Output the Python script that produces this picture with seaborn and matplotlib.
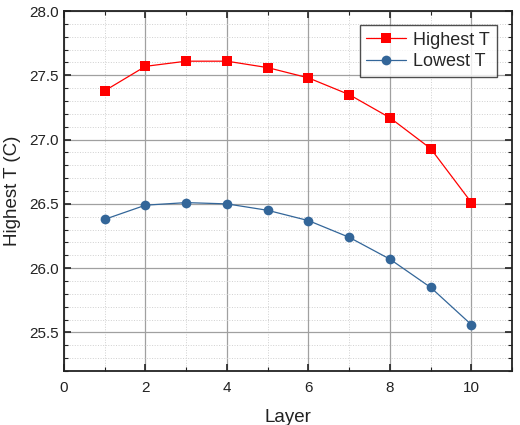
import matplotlib
matplotlib.use("Agg")
import matplotlib.pyplot as plt
from matplotlib.ticker import MultipleLocator
import seaborn as sns
import pandas as pd

layers = [1, 2, 3, 4, 5, 6, 7, 8, 9, 10]
highest_t = [27.38, 27.57, 27.61, 27.61, 27.56, 27.48, 27.35, 27.17, 26.93, 26.51]
lowest_t = [26.38, 26.49, 26.51, 26.50, 26.45, 26.37, 26.24, 26.07, 25.85, 25.56]
series_names = ["Highest T", "Lowest T"]

sns.set_theme(style="white")
plt.rcParams['font.family'] = ['Liberation Sans', 'DejaVu Sans']

df = pd.DataFrame({
    "Layer": layers * 2,
    "T": highest_t + lowest_t,
    "Series": [series_names[0]] * len(layers) + [series_names[1]] * len(layers),
})

fig = plt.figure(figsize=(5.2, 4.25), dpi=100)
ax = fig.add_axes([0.123, 0.127, 0.862, 0.847])

palette = {series_names[0]: "#ff0000", series_names[1]: "#336699"}
markers = {series_names[0]: "s", series_names[1]: "o"}
sns.lineplot(data=df, x="Layer", y="T", hue="Series", style="Series",
             palette=palette, markers=markers, dashes=False, markersize=7,
             markeredgewidth=0, linewidth=0.9, ax=ax)

ax.set_xlim(0, 11)
ax.set_ylim(25.2, 28.0)
ax.xaxis.set_major_locator(MultipleLocator(2))
ax.xaxis.set_minor_locator(MultipleLocator(1))
ax.yaxis.set_major_locator(MultipleLocator(0.5))
ax.yaxis.set_minor_locator(MultipleLocator(0.1))
ax.yaxis.set_major_formatter(matplotlib.ticker.FormatStrFormatter('%.1f'))

ax.grid(True, which='major', color='#a0a0a0', linewidth=0.9, linestyle='-')
ax.grid(True, which='minor', color='#d0d0d0', linewidth=0.7, linestyle=':')
ax.set_axisbelow(True)

ax.tick_params(which='both', direction='in', top=True, right=True,
               bottom=True, left=True, color='#222222')
ax.tick_params(which='major', length=5, width=1.2, labelsize=11, labelcolor='#222222')
ax.tick_params(which='minor', length=3, width=0.8)
ax.tick_params(axis='x', which='major', pad=7)
for s in ax.spines.values():
    s.set_color('#222222')
    s.set_linewidth(1.3)

ax.set_xlabel("Layer", fontsize=13.5, color='#222222', labelpad=10)
ax.set_ylabel("Highest T (C)", fontsize=13.5, color='#222222', labelpad=6)

leg = ax.legend(loc='upper right', bbox_to_anchor=(0.965, 0.96), fontsize=13,
                frameon=True, fancybox=False, edgecolor='#222222',
                borderpad=0.35, handlelength=2.2, handletextpad=0.4,
                labelspacing=0.25, borderaxespad=0)
leg.get_frame().set_linewidth(1.0)

fig.savefig("out.png", dpi=100)
